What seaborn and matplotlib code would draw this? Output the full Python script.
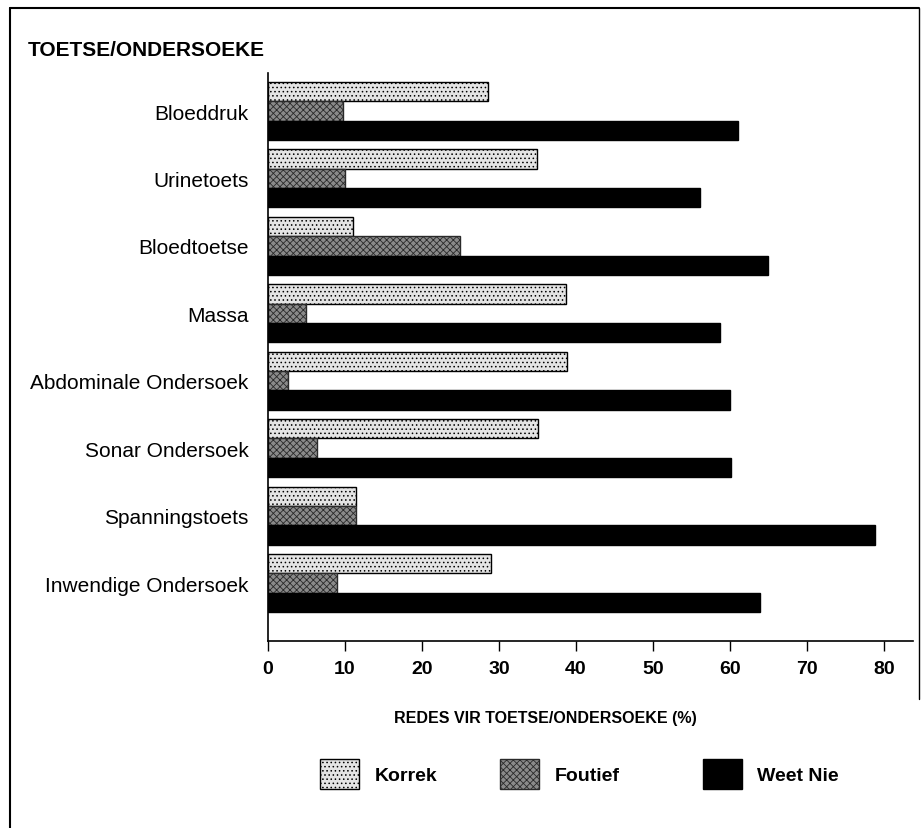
import matplotlib
matplotlib.use("Agg")
import matplotlib.pyplot as plt
from matplotlib.patches import Patch
from matplotlib.lines import Line2D
import seaborn as sns
import pandas as pd

categories = [
    "Bloeddruk", "Urinetoets", "Bloedtoetse", "Massa",
    "Abdominale Ondersoek", "Sonar Ondersoek", "Spanningstoets",
    "Inwendige Ondersoek",
]
groups = ["Korrek", "Foutief", "Weet Nie"]
korrek = [28.6, 34.9, 11.0, 38.7, 38.8, 35.1, 11.4, 29.0]
foutief = [9.8, 10.0, 25.0, 5.0, 2.6, 6.4, 11.4, 9.0]
weet_nie = [61.0, 56.1, 64.9, 58.7, 60.0, 60.1, 78.8, 63.9]
xticks = [0, 10, 20, 30, 40, 50, 60, 70, 80]

df = pd.DataFrame({
    "toets": categories * 3,
    "groep": [g for g in groups for _ in categories],
    "pct": korrek + foutief + weet_nie,
})

sns.set_style("ticks")
plt.rcParams["font.family"] = ["Liberation Sans", "DejaVu Sans"]
plt.rcParams["hatch.linewidth"] = 0.6
for k in ["text.color", "axes.labelcolor", "xtick.color", "ytick.color"]:
    plt.rcParams[k] = "black"

styles = {
    "Korrek": dict(facecolor="#e4e4e4", edgecolor="black", hatch="...."),
    "Foutief": dict(facecolor="#8a8a8a", edgecolor="#2a2a2a", hatch="xxxxx"),
    "Weet Nie": dict(facecolor="black", edgecolor="black", hatch=None),
}

fig = plt.figure(figsize=(9.22, 8.29), dpi=100)
ax = fig.add_axes([268 / 922, 1 - 642 / 829, (913 - 268) / 922, (642 - 74) / 829])

sns.barplot(data=df, x="pct", y="toets", hue="groep", order=categories,
            hue_order=groups, orient="h", width=0.86, legend=False,
            palette=["#e4e4e4", "#8a8a8a", "black"], saturation=1,
            errorbar=None, ax=ax)

for container, g in zip(ax.containers, groups):
    for bar in container:
        bar.set_facecolor(styles[g]["facecolor"])
        bar.set_edgecolor(styles[g]["edgecolor"])
        bar.set_linewidth(1.0)
        if styles[g]["hatch"]:
            bar.set_hatch(styles[g]["hatch"])

ax.set_xlim(0, 83.8)
ax.set_ylim(7.86, -0.564)
ax.set_xticks(xticks)
ax.set_xticklabels([str(t) for t in xticks], fontsize=14, fontweight="bold")
ax.tick_params(axis="x", length=7, width=1, pad=7, direction="out")
ax.tick_params(axis="y", length=0, pad=14, labelsize=15)
ax.set_xlabel("")
ax.set_ylabel("")
sns.despine(ax=ax)
for s in ["left", "bottom"]:
    ax.spines[s].set_linewidth(1.2)
    ax.spines[s].set_color("black")

fig.text(28 / 922, 1 - 50 / 829, "TOETSE/ONDERSOEKE", fontsize=15,
         fontweight="bold", ha="left", va="center")
fig.text(545 / 922, 1 - 718 / 829, "REDES VIR TOETSE/ONDERSOEKE (%)",
         fontsize=11.5, fontweight="bold", ha="center", va="center")

# legend, one entry per slot
legend_x = [320, 500, 703]
for g, lx in zip(groups, legend_x):
    st = styles[g]
    h = Patch(facecolor=st["facecolor"], edgecolor=st["edgecolor"],
              hatch=st["hatch"], linewidth=1.0)
    fig.legend([h], [g], loc="center left",
               bbox_to_anchor=(lx / 922, 1 - 775 / 829),
               frameon=False, handlelength=2.0, handleheight=2.0,
               handletextpad=0.8, borderpad=0, borderaxespad=0,
               prop={"size": 14, "weight": "bold"})

# frame around the figure
fig.add_artist(Line2D([10 / 922, 919 / 922], [1 - 9 / 829, 1 - 9 / 829],
                      color="black", lw=1.5, transform=fig.transFigure))
fig.add_artist(Line2D([10 / 922, 10 / 922], [1 - 9 / 829, 0],
                      color="black", lw=1.5, transform=fig.transFigure))
fig.add_artist(Line2D([919 / 922, 919 / 922], [1 - 9 / 829, 1 - 700 / 829],
                      color="black", lw=1.0, transform=fig.transFigure))

fig.savefig("out.png", dpi=100)
